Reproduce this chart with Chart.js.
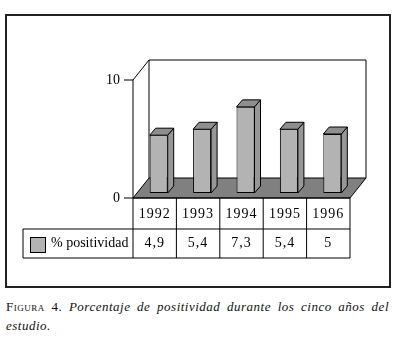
<!DOCTYPE html>
<html>
<head>
<meta charset="utf-8">
<script src="https://cdn.jsdelivr.net/npm/chart.js@4.4.0/dist/chart.umd.min.js"></script>
<style>
  html, body { margin: 0; padding: 0; background: #fff; }
  body { width: 401px; height: 350px; position: relative; overflow: hidden; }
  #marco { position: absolute; left: 5px; top: 14px; width: 382px; height: 270px; border: 2px solid #222; }
  #lienzo { position: absolute; left: 0; top: 0; }
  .pie { position: absolute; left: 6px; width: 383px; font: 13px "Liberation Serif", serif; color: #111; line-height: 17px; letter-spacing: 0.5px; }
  #pie1 { top: 298px; text-align: justify; text-align-last: justify; }
  #pie2 { top: 317px; }
  .sc { font-variant: small-caps; font-style: normal; }
  i { font-style: italic; }
</style>
</head>
<body>
<div id="marco"></div>
<canvas id="lienzo" width="401" height="290"></canvas>
<div class="pie" id="pie1"><span class="sc">Figura 4.</span> <i>Porcentaje de positividad durante los cinco años del</i></div>
<div class="pie" id="pie2"><i>estudio.</i></div>

<script>
// Datos de la figura
const anios = ['1992', '1993', '1994', '1995', '1996'];
const positividad = [4.9, 5.4, 7.3, 5.4, 5];
const ticksY = [0, 10];
const nombreSerie = '% positividad';

// Desplazamientos de profundidad (plano frontal y pared del fondo)
const FRENTE = { dx: -4, dy: 5 };
const FONDO = { dx: 12, dy: -15 };
const PROF_BARRA = { dx: 6, dy: -7 };
const fuente = '14px "Liberation Serif", serif';

function poligono(ctx, puntos, relleno) {
    ctx.beginPath();
    puntos.forEach((p, i) => i ? ctx.lineTo(p[0], p[1]) : ctx.moveTo(p[0], p[1]));
    ctx.closePath();
    if (relleno) {
        ctx.fillStyle = relleno;
        ctx.fill();
    }
    ctx.stroke();
}

const efecto3d = {
    id: 'efecto3d',
    beforeDatasetsDraw(chart) {
        const ctx = chart.ctx;
        const xs = chart.scales.x, ys = chart.scales.y;
        const x0 = xs.left, x1 = xs.right;
        const yb = ys.getPixelForValue(0), yt = ys.getPixelForValue(10);
        ctx.save();
        ctx.strokeStyle = '#000';
        ctx.lineWidth = 1;

        // Suelo
        poligono(ctx, [
            [x0 + FRENTE.dx, yb + FRENTE.dy],
            [x0 + FONDO.dx, yb + FONDO.dy],
            [x1 + FONDO.dx, yb + FONDO.dy],
            [x1 + FRENTE.dx, yb + FRENTE.dy]
        ], '#808080');

        // Pared lateral y pared del fondo
        ctx.beginPath();
        ctx.moveTo(x0 + FRENTE.dx, yb + FRENTE.dy);
        ctx.lineTo(x0 + FRENTE.dx, yt + FRENTE.dy);
        ctx.lineTo(x0 + FONDO.dx, yt + FONDO.dy);
        ctx.lineTo(x0 + FONDO.dx, yb + FONDO.dy);
        ctx.moveTo(x0 + FONDO.dx, yt + FONDO.dy);
        ctx.lineTo(x1 + FONDO.dx, yt + FONDO.dy);
        ctx.lineTo(x1 + FONDO.dx, yb + FONDO.dy);
        ctx.stroke();

        // Marcas y etiquetas del eje Y
        ctx.font = fuente;
        ctx.fillStyle = '#000';
        ctx.textAlign = 'right';
        ctx.textBaseline = 'middle';
        ticksY.forEach(v => {
            const y = ys.getPixelForValue(v) + FRENTE.dy;
            const xe = x0 + FRENTE.dx;
            ctx.beginPath();
            ctx.moveTo(xe - 9, y);
            ctx.lineTo(xe, y);
            ctx.stroke();
            ctx.fillText(String(v), xe - 13, y);
        });
        ctx.restore();
    },
    afterDatasetsDraw(chart) {
        const ctx = chart.ctx;
        ctx.save();
        ctx.strokeStyle = '#000';
        ctx.lineWidth = 1;
        chart.getDatasetMeta(0).data.forEach(barra => {
            const p = barra.getProps(['x', 'y', 'width', 'base'], true);
            const izq = p.x - p.width / 2, der = p.x + p.width / 2;
            // Cara lateral
            poligono(ctx, [
                [der, p.y], [der + PROF_BARRA.dx, p.y + PROF_BARRA.dy],
                [der + PROF_BARRA.dx, p.base + PROF_BARRA.dy], [der, p.base]
            ], '#979797');
            // Cara superior
            poligono(ctx, [
                [izq, p.y], [izq + PROF_BARRA.dx, p.y + PROF_BARRA.dy],
                [der + PROF_BARRA.dx, p.y + PROF_BARRA.dy], [der, p.y]
            ], '#8e8e8e');
        });
        ctx.restore();
    },
    afterDraw(chart) {
        // Tabla de datos
        const ctx = chart.ctx;
        const xs = chart.scales.x, ys = chart.scales.y;
        const n = anios.length;
        const anchoCat = (xs.right - xs.left) / n;
        const bordes = [];
        for (let k = 0; k <= n; k++) bordes.push(xs.left + FRENTE.dx + k * anchoCat);
        const fila0 = ys.getPixelForValue(0) + FRENTE.dy;
        const fila1 = fila0 + 31, fila2 = fila1 + 29;
        const izqLeyenda = 23;

        ctx.save();
        ctx.strokeStyle = '#000';
        ctx.lineWidth = 1;
        ctx.beginPath();
        ctx.moveTo(bordes[0], fila0); ctx.lineTo(bordes[n], fila0);
        ctx.moveTo(izqLeyenda, fila1); ctx.lineTo(bordes[n], fila1);
        ctx.moveTo(izqLeyenda, fila2); ctx.lineTo(bordes[n], fila2);
        bordes.forEach(b => { ctx.moveTo(b, fila0); ctx.lineTo(b, fila2); });
        ctx.moveTo(izqLeyenda, fila1); ctx.lineTo(izqLeyenda, fila2);
        ctx.stroke();

        ctx.font = fuente;
        ctx.fillStyle = '#000';
        ctx.textAlign = 'center';
        ctx.textBaseline = 'middle';
        ctx.letterSpacing = '1px';
        anios.forEach((a, i) => {
            const cx = (bordes[i] + bordes[i + 1]) / 2;
            ctx.fillText(a, cx, (fila0 + fila1) / 2 + 1);
            ctx.fillText(String(positividad[i]).replace('.', ','), cx, (fila1 + fila2) / 2);
        });

        // Leyenda
        ctx.fillStyle = '#b3b3b3';
        ctx.fillRect(30.5, fila1 + 8.5, 15, 15);
        ctx.strokeRect(30.5, fila1 + 8.5, 15, 15);
        ctx.fillStyle = '#000';
        ctx.textAlign = 'left';
        ctx.letterSpacing = '0px';
        ctx.fillText(nombreSerie, 51, (fila1 + fila2) / 2);
        ctx.restore();
    }
};

new Chart(document.getElementById('lienzo'), {
    type: 'bar',
    data: {
        labels: anios,
        datasets: [{
            label: nombreSerie,
            data: positividad,
            backgroundColor: '#b3b3b3',
            borderColor: '#000',
            borderWidth: 1,
            borderSkipped: false,
            categoryPercentage: 1,
            barPercentage: 0.415
        }]
    },
    options: {
        responsive: false,
        animation: false,
        layout: { padding: { left: 137, right: 47, top: 75, bottom: 97 } },
        scales: {
            x: { display: false },
            y: { display: false, min: 0, max: 10 }
        },
        plugins: {
            legend: { display: false },
            tooltip: { enabled: false }
        }
    },
    plugins: [efecto3d]
});
</script>
</body>
</html>
